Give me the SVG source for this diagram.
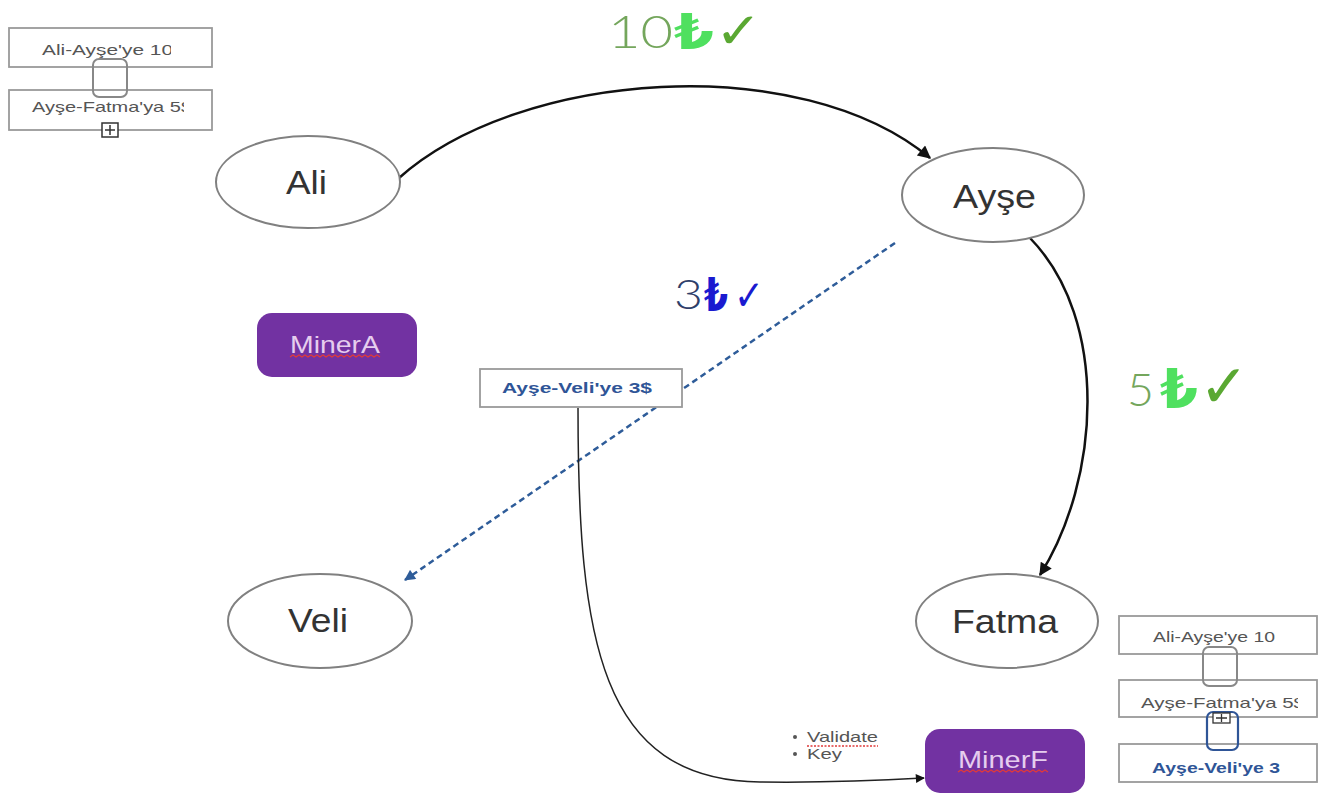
<svg xmlns="http://www.w3.org/2000/svg" width="1319" height="796" viewBox="0 0 1319 796">
<style>
text{white-space:pre}
.node ellipse{fill:#fff;stroke:#808080;stroke-width:2}
.ntext{font-family:"Liberation Sans",Arial,sans-serif;font-size:33px;fill:#333}
.ledger rect.b{fill:#fff;stroke:#9a9a9a;stroke-width:1.8}
.ltext{font-family:"Liberation Sans",Arial,sans-serif;font-size:15px;fill:#555}
.btext{font-family:"Liberation Sans",Arial,sans-serif;font-size:15px;font-weight:bold;fill:#2f5597}
.miner rect{fill:#7232a2}
.mtext{font-family:"Liberation Sans",Arial,sans-serif;font-size:24px;fill:#e6cdee}
.wavy{fill:none;stroke:#e03a3a;stroke-width:1.2}
.big{font-family:"Lato","Liberation Sans",sans-serif;font-weight:300}
.sym{font-family:"DejaVu Sans","Noto Sans",sans-serif;font-weight:bold}
</style>
<defs>
<marker id="ah" viewBox="0 0 10 10" refX="9" refY="5" markerWidth="15" markerHeight="13" markerUnits="userSpaceOnUse" orient="auto"><path d="M0,0 L10,5 L0,10 Z" fill="#111"/></marker>
<marker id="ahs" viewBox="0 0 10 10" refX="9" refY="5" markerWidth="10" markerHeight="9" markerUnits="userSpaceOnUse" orient="auto"><path d="M0,0 L10,5 L0,10 Z" fill="#111"/></marker>
<marker id="ahb" viewBox="0 0 10 10" refX="9" refY="5" markerWidth="13" markerHeight="11" markerUnits="userSpaceOnUse" orient="auto"><path d="M0,0 L10,5 L0,10 Z" fill="#2e5c99"/></marker>
<clipPath id="c1"><rect x="9" y="28" width="162" height="40"/></clipPath>
<clipPath id="c2"><rect x="9" y="90" width="175" height="40"/></clipPath>
<clipPath id="c3"><rect x="1119" y="678" width="179" height="40"/></clipPath>
</defs>
<rect width="1319" height="796" fill="#fff"/>

<g id="connectors" fill="none">
<path d="M399,178 C520,70 800,50 930,158" stroke="#111" stroke-width="2.5" marker-end="url(#ah)"/>
<path d="M1030,238 C1110,320 1100,480 1040,575" stroke="#111" stroke-width="2.5" marker-end="url(#ah)"/>
<path d="M895,243 L405,580" stroke="#2e5c99" stroke-width="2.5" stroke-dasharray="6 4" marker-end="url(#ahb)"/>
<path d="M578,408 C578,640 600,780 760,782 C840,783 890,780 924,778" stroke="#222" stroke-width="1.5" marker-end="url(#ahs)"/>
</g>

<g id="node-ali" class="node"><ellipse cx="308" cy="182" rx="92" ry="46"/><text class="ntext" x="286" y="194" textLength="41" lengthAdjust="spacingAndGlyphs">Ali</text></g>
<g id="node-ayse" class="node"><ellipse cx="993" cy="195" rx="91" ry="47"/><text class="ntext" x="953" y="208" textLength="83" lengthAdjust="spacingAndGlyphs">Ayşe</text></g>
<g id="node-veli" class="node"><ellipse cx="320" cy="621" rx="92" ry="47"/><text class="ntext" x="288" y="632" textLength="60" lengthAdjust="spacingAndGlyphs">Veli</text></g>
<g id="node-fatma" class="node"><ellipse cx="1007" cy="621" rx="91" ry="47"/><text class="ntext" x="952" y="633" textLength="106" lengthAdjust="spacingAndGlyphs">Fatma</text></g>

<g id="minerA" class="miner"><rect x="257" y="313" width="160" height="64" rx="15"/><text class="mtext" x="290" y="353" textLength="90" lengthAdjust="spacingAndGlyphs">MinerA</text><path class="wavy" d="M290,357 l3,-2 l3,2 l3,-2 l3,2 l3,-2 l3,2 l3,-2 l3,2 l3,-2 l3,2 l3,-2 l3,2 l3,-2 l3,2 l3,-2 l3,2 l3,-2 l3,2 l3,-2 l3,2 l3,-2 l3,2 l3,-2 l3,2 l3,-2 l3,2 l3,-2 l3,2 l3,-2 l3,2"/></g>
<g id="minerF" class="miner"><rect x="925" y="729" width="160" height="64" rx="15"/><text class="mtext" x="958" y="768" textLength="90" lengthAdjust="spacingAndGlyphs">MinerF</text><path class="wavy" d="M958,772 l3,-2 l3,2 l3,-2 l3,2 l3,-2 l3,2 l3,-2 l3,2 l3,-2 l3,2 l3,-2 l3,2 l3,-2 l3,2 l3,-2 l3,2 l3,-2 l3,2 l3,-2 l3,2 l3,-2 l3,2 l3,-2 l3,2 l3,-2 l3,2 l3,-2 l3,2 l3,-2 l3,2"/></g>

<g id="tx-box" class="ledger"><rect class="b" x="480" y="369" width="202" height="38"/><text class="btext" x="502" y="393" textLength="150" lengthAdjust="spacingAndGlyphs">Ayşe-Veli'ye 3$</text></g>

<g id="ledger-top-left" class="ledger">
<rect class="b" x="9" y="28" width="203" height="39"/>
<text class="ltext" x="42" y="55" textLength="131" lengthAdjust="spacingAndGlyphs" clip-path="url(#c1)">Ali-Ayşe'ye 10</text>
<rect class="b" x="9" y="90" width="203" height="40"/>
<text class="ltext" x="32" y="112" textLength="160" lengthAdjust="spacingAndGlyphs" clip-path="url(#c2)">Ayşe-Fatma'ya 5$</text>
<rect x="93" y="59" width="34" height="38" rx="6" fill="none" stroke="#888" stroke-width="2"/>
<rect x="102" y="123" width="16" height="14" fill="#fff" stroke="#333" stroke-width="1.5"/>
<path d="M105,130 h10 M110,125 v10" stroke="#333" stroke-width="1.5"/>
</g>

<g id="ledger-bottom-right" class="ledger">
<rect class="b" x="1119" y="616" width="198" height="38"/>
<text class="ltext" x="1153" y="642" textLength="122" lengthAdjust="spacingAndGlyphs">Ali-Ayşe'ye 10</text>
<rect class="b" x="1119" y="680" width="198" height="37"/>
<text class="ltext" x="1141" y="708" textLength="164" lengthAdjust="spacingAndGlyphs" clip-path="url(#c3)">Ayşe-Fatma'ya 5$</text>
<rect class="b" x="1119" y="744" width="198" height="38"/>
<text class="btext" x="1152" y="773" textLength="128" lengthAdjust="spacingAndGlyphs">Ayşe-Veli'ye 3</text>
<rect x="1203" y="647" width="34" height="39" rx="6" fill="none" stroke="#888" stroke-width="2"/>
<rect x="1207" y="712" width="31" height="38" rx="6" fill="none" stroke="#2f5597" stroke-width="2.2"/>
<rect x="1213" y="713" width="17" height="10" fill="#fff" stroke="#333" stroke-width="1.3"/>
<path d="M1216,718 h11 M1221.5,714 v8" stroke="#333" stroke-width="1.3"/>
</g>

<g id="label-10">
<text class="big" x="608" y="48" font-size="46" fill="#74a65c" textLength="65" lengthAdjust="spacingAndGlyphs">10</text>
<text class="sym" x="674" y="49" font-size="50" fill="#4fe05f" textLength="40" lengthAdjust="spacingAndGlyphs">₺</text>
<text class="sym" x="715" y="48" font-size="50" fill="#5aa832" textLength="47" lengthAdjust="spacingAndGlyphs">✓</text>
</g>
<g id="label-3">
<text class="big" x="674" y="309" font-size="42" fill="#2f3f6a" textLength="29" lengthAdjust="spacingAndGlyphs">3</text>
<text class="sym" x="704" y="311" font-size="46" fill="#1a1ad0" textLength="24" lengthAdjust="spacingAndGlyphs">₺</text>
<text class="sym" x="734" y="310" font-size="42" fill="#1a1ad0" textLength="30" lengthAdjust="spacingAndGlyphs">✓</text>
</g>
<g id="label-5">
<text class="big" x="1127" y="406" font-size="46" fill="#74a65c" textLength="27" lengthAdjust="spacingAndGlyphs">5</text>
<text class="sym" x="1160" y="408" font-size="56" fill="#4fe05f" textLength="38" lengthAdjust="spacingAndGlyphs">₺</text>
<text class="sym" x="1199" y="407" font-size="60" fill="#5aa832" textLength="50" lengthAdjust="spacingAndGlyphs">✓</text>
</g>

<g id="notes">
<circle cx="795" cy="737" r="2" fill="#555"/>
<circle cx="795" cy="754" r="2" fill="#555"/>
<text class="ltext" x="807" y="742" textLength="71" lengthAdjust="spacingAndGlyphs">Validate</text>
<text class="ltext" x="807" y="759" textLength="35" lengthAdjust="spacingAndGlyphs">Key</text>
<path d="M807,746 h71" stroke="#e03a3a" stroke-width="1.5" stroke-dasharray="2 1.5"/>
</g>
</svg>
